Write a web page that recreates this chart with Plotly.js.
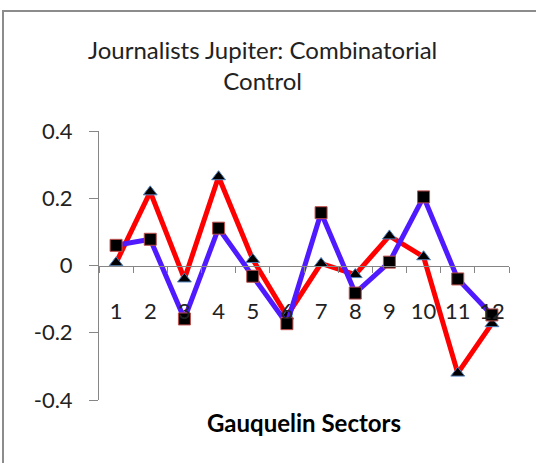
<!DOCTYPE html>
<html>
<head>
<meta charset="utf-8">
<script src="https://cdn.plot.ly/plotly-3.0.1.min.js"></script>
<style>
  html, body { margin: 0; padding: 0; background: #fff; }
  #wrap { position: relative; width: 536px; height: 463px; overflow: hidden; }
  #frame { position: absolute; left: 2px; top: 10px; width: 560px; height: 480px;
           border-left: 2px solid #8c8c8c; border-top: 2px solid #8c8c8c; pointer-events: none; }
  #chart { position: absolute; left: 0; top: 0; width: 536px; height: 463px; }
</style>
</head>
<body>
<div id="wrap">
  <div id="chart"></div>
  <div id="frame"></div>
</div>
<script>
const sectors = ["1","2","3","4","5","6","7","8","9","10","11","12"];
const seriesRed = [0.008, 0.219, -0.040, 0.264, 0.018, -0.150, 0.006, -0.027, 0.088, 0.026, -0.320, -0.173];
const seriesBlue = [0.060, 0.078, -0.159, 0.111, -0.032, -0.173, 0.157, -0.082, 0.010, 0.204, -0.040, -0.147];
const yTicks = [-0.4, -0.2, 0, 0.2, 0.4];
const yTickText = ["-0.4", "-0.2", "0", "0.2", "0.4"];
const titleText = "Journalists Jupiter: Combinatorial<br>Control";
const xTitleText = "Gauquelin Sectors";

const FONT = "Lato, 'Open Sans', sans-serif";

const traces = [
  {
    x: sectors, y: seriesRed, type: "scatter", mode: "lines+markers",
    line: { color: "#ff0000", width: 5 },
    marker: { symbol: "triangle-up", size: 12, color: "#000000", line: { color: "#4f81bd", width: 1 } },
    hoverinfo: "skip"
  },
  {
    x: sectors, y: seriesBlue, type: "scatter", mode: "lines+markers",
    line: { color: "#4f1aff", width: 5 },
    marker: { symbol: "square", size: 12, color: "#000000", line: { color: "#c0504d", width: 1 } },
    hoverinfo: "skip"
  }
];

const layout = {
  width: 536, height: 463,
  margin: { l: 99, r: 27, t: 131, b: 63, pad: 0 },
  paper_bgcolor: "#ffffff", plot_bgcolor: "#ffffff",
  showlegend: false,
  font: { family: FONT, color: "#222222", size: 21 },
  title: {
    text: titleText, x: 0.49, xref: "container", xanchor: "center",
    y: 1 - 59 / 463, yref: "container", yanchor: "top",
    font: { family: FONT, size: 24, color: "#222222" }
  },
  xaxis: {
    type: "category",
    anchor: "free", position: 0.5,
    range: [-0.5, 11.5],
    showline: true, linecolor: "#868686", linewidth: 1,
    ticks: "outside", ticklen: 6, tickcolor: "#868686", tickwidth: 1,
    tickson: "boundaries",
    tickangle: 0,
    showgrid: false, zeroline: false,
    tickfont: { family: FONT, size: 22, color: "#222222" },
    ticklabelstandoff: 26,
    title: { text: xTitleText, standoff: 92, font: { family: FONT, size: 24, color: "#000000", weight: "bold" } }
  },
  yaxis: {
    range: [-0.4, 0.4],
    tickvals: yTicks, ticktext: yTickText,
    showline: true, linecolor: "#868686", linewidth: 1,
    ticks: "outside", ticklen: 9, tickcolor: "#868686", tickwidth: 1,
    showgrid: false, zeroline: false,
    tickfont: { family: FONT, size: 22, color: "#222222" },
    ticklabelstandoff: 12
  }
};

Plotly.newPlot("chart", traces, layout, { staticPlot: true, displayModeBar: false });
</script>
</body>
</html>
